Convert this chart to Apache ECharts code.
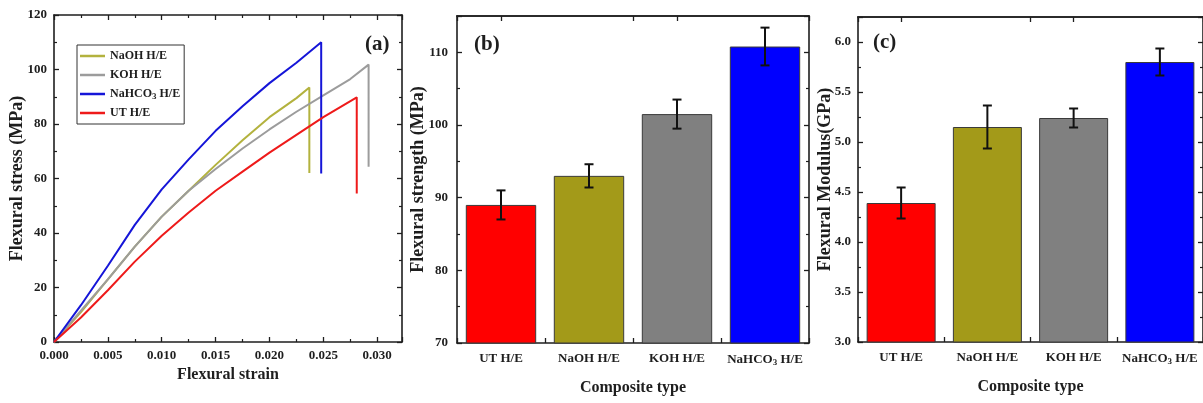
<!DOCTYPE html>
<html><head><meta charset="utf-8">
<script src="https://cdn.jsdelivr.net/npm/echarts@6/dist/echarts.min.js"></script>
<style>html,body{margin:0;padding:0;background:#fff}#c{width:1203px;height:403px}</style>
</head><body><div id="c"></div>
<script>
// ---------- data ----------
const categories = ['UT H/E', 'NaOH H/E', 'KOH H/E', 'NaHCO3 H/E'];
const strengthMean = [89.0, 93.0, 101.5, 110.8];
const strengthErr = [2.0, 1.6, 2.0, 2.6];
const modulusMean = [4.39, 5.15, 5.24, 5.80];
const modulusErr = [0.155, 0.215, 0.095, 0.135];

const strainNaOH = [0, 0.0025, 0.005, 0.0075, 0.010, 0.0125, 0.015, 0.0175, 0.020, 0.0225, 0.0237, 0.0237];
const stressNaOH = [0, 11, 23, 35, 46, 55.5, 65, 74, 82.5, 89.5, 93.4, 62];
const strainKOH = [0, 0.0025, 0.005, 0.0075, 0.010, 0.0125, 0.015, 0.0175, 0.020, 0.0225, 0.025, 0.0275, 0.0292, 0.0292];
const stressKOH = [0, 11.5, 23, 35, 46, 55.5, 63.5, 71, 78, 84.5, 90.5, 96.5, 101.8, 64.3];
const strainNaHCO3 = [0, 0.0025, 0.005, 0.0075, 0.010, 0.0125, 0.015, 0.0175, 0.020, 0.0225, 0.0248, 0.0248];
const stressNaHCO3 = [0, 13.5, 28, 43, 56, 67, 77.5, 86.5, 95, 102.5, 110, 61.8];
const strainUT = [0, 0.0025, 0.005, 0.0075, 0.010, 0.0125, 0.015, 0.0175, 0.020, 0.0225, 0.025, 0.0281, 0.0281];
const stressUT = [0, 9, 19, 29.5, 39, 47.5, 55.5, 62.5, 69.5, 76, 82.5, 89.8, 54.5];

// ---------- styles ----------
const FONT = '"Liberation Serif", "DejaVu Serif", serif';
const INK = '#1e1e1e';
const barColors = ['#ff0000', '#a39a19', '#808080', '#0000ff'];
const lineColors = { 'NaOH H/E': '#b3b23e', 'KOH H/E': '#9c9c9c', 'NaHCO3 H/E': '#1515d8', 'UT H/E': '#ee1a1a' };

const pairs = (xs, ys) => xs.map((x, i) => [x, ys[i]]);
const rich = { sub: { fontSize: 9, fontWeight: 'bold', fontFamily: FONT, color: INK, verticalAlign: 'bottom', padding: [6, 0, 0, 0] } };
const catFmt = v => v === 'NaHCO3 H/E' ? 'NaHCO{sub|3} H/E' : v;

const axisLine = { show: true, onZero: false, lineStyle: { color: INK, width: 1.6 } };
const labelStyle = { fontFamily: FONT, fontWeight: 'bold', fontSize: 13, color: INK };
const yNameStyle = { fontFamily: FONT, fontWeight: 'bold', fontSize: 18, color: INK };
const xNameStyle = { fontFamily: FONT, fontWeight: 'bold', fontSize: 16, color: INK };
const tickIn = { show: true, inside: true, length: 5, lineStyle: { color: INK, width: 1.3 } };
const minorIn = { show: true, splitNumber: 2, length: 3, lineStyle: { color: INK, width: 1.2 } };

function isMultiple(v, step) { return Math.abs(v / step - Math.round(v / step)) < 1e-6; }

function valueAxis(o) {
  return Object.assign({
    type: 'value', scale: false, axisLine, axisTick: tickIn,
    minorTick: minorIn, splitLine: { show: false }, minorSplitLine: { show: false },
    nameLocation: 'middle', nameMoveOverlap: false
  }, o);
}

function errRender(params, api) {
  const x = api.value(0), lo = api.value(1), hi = api.value(2);
  const pLo = api.coord([x, lo]), pHi = api.coord([x, hi]);
  const cap = 4.5;
  const style = { stroke: '#111', lineWidth: 2 };
  return {
    type: 'group', children: [
      { type: 'line', shape: { x1: pLo[0], y1: pLo[1], x2: pHi[0], y2: pHi[1] }, style },
      { type: 'line', shape: { x1: pHi[0] - cap, y1: pHi[1], x2: pHi[0] + cap, y2: pHi[1] }, style },
      { type: 'line', shape: { x1: pLo[0] - cap, y1: pLo[1], x2: pLo[0] + cap, y2: pLo[1] }, style }
    ]
  };
}

const grids = [
  { left: 54, top: 15, width: 348, height: 327 },
  { left: 457, top: 16, width: 352, height: 327 },
  { left: 858, top: 17, width: 349, height: 325 }
];

function catAxes(gi) {
  return [
    { type: 'category', gridIndex: gi, data: categories, position: 'bottom', axisLine,
      axisTick: tickIn, axisLabel: Object.assign({ formatter: catFmt, rich, margin: 9, interval: 0 }, labelStyle),
      name: 'Composite type', nameLocation: 'middle', nameGap: 37, nameTextStyle: xNameStyle },
    { type: 'category', gridIndex: gi, data: categories, position: 'top', axisLine,
      axisTick: tickIn, axisLabel: { show: false } },
    { type: 'category', gridIndex: gi, data: categories, position: 'top', axisLine,
      axisTick: Object.assign({ alignWithLabel: true }, tickIn), axisLabel: { show: false } }
  ];
}

const xAxis = [
  valueAxis({ gridIndex: 0, min: 0, max: 0.0323, interval: 0.005, position: 'bottom',
    axisLabel: Object.assign({ margin: 7, formatter: v => isMultiple(v, 0.005) ? v.toFixed(3) : '' }, labelStyle),
    name: 'Flexural strain', nameGap: 23, nameTextStyle: xNameStyle, nameMoveOverlap: true }),
  valueAxis({ gridIndex: 0, min: 0, max: 0.0323, interval: 0.005, position: 'top', axisLabel: { show: false } }),
  ...catAxes(1),
  ...catAxes(2)
];

const yAxis = [
  valueAxis({ gridIndex: 0, min: 0, max: 120, interval: 20, position: 'left',
    axisLabel: Object.assign({ margin: 7 }, labelStyle), name: 'Flexural stress (MPa)', nameGap: 28, nameTextStyle: yNameStyle }),
  valueAxis({ gridIndex: 0, min: 0, max: 120, interval: 20, position: 'right', axisLabel: { show: false } }),
  valueAxis({ gridIndex: 1, min: 70, max: 115, interval: 10, position: 'left',
    axisLabel: Object.assign({ margin: 9, formatter: v => isMultiple(v, 10) ? String(v) : '' }, labelStyle),
    name: 'Flexural strength (MPa)', nameGap: 30, nameTextStyle: yNameStyle }),
  valueAxis({ gridIndex: 1, min: 70, max: 115, interval: 10, position: 'right', axisLabel: { show: false } }),
  valueAxis({ gridIndex: 2, min: 3, max: 6.25, interval: 0.5, position: 'left',
    axisLabel: Object.assign({ margin: 7, formatter: v => isMultiple(v, 0.5) ? v.toFixed(1) : '' }, labelStyle),
    name: 'Flexural Modulus(GPa)', nameGap: 24, nameTextStyle: yNameStyle }),
  valueAxis({ gridIndex: 2, min: 3, max: 6.25, interval: 0.5, position: 'right', axisLabel: { show: false } })
];

function lineSeries(name, xs, ys) {
  return { name, type: 'line', xAxisIndex: 0, yAxisIndex: 0, data: pairs(xs, ys),
    showSymbol: false, symbol: 'none', lineStyle: { width: 2, color: lineColors[name] },
    itemStyle: { color: lineColors[name] }, z: 3 };
}

function barSeries(xi, yi, means) {
  return { type: 'bar', xAxisIndex: xi, yAxisIndex: yi, barWidth: '80%',
    data: means.map((v, i) => ({ value: v, itemStyle: { color: barColors[i] } })),
    itemStyle: { borderColor: '#3a3a3a', borderWidth: 1 }, z: 2 };
}
function errSeries(xi, yi, means, errs) {
  return { type: 'custom', xAxisIndex: xi, yAxisIndex: yi, renderItem: errRender,
    encode: { x: 0, y: [1, 2] },
    data: means.map((v, i) => [i, v - errs[i], v + errs[i]]), z: 4 };
}

const option = {
  backgroundColor: '#ffffff',
  animation: false,
  grid: grids,
  xAxis, yAxis,
  legend: {
    data: ['NaOH H/E', 'KOH H/E', 'NaHCO3 H/E', 'UT H/E'],
    orient: 'vertical', left: 77, top: 45,
    icon: 'rect', itemWidth: 25, itemHeight: 2.5, itemGap: 5,
    padding: [4, 4, 4, 3],
    borderColor: '#333', borderWidth: 1,
    formatter: n => n === 'NaHCO3 H/E' ? 'NaHCO{sub|3} H/E' : n,
    textStyle: { fontFamily: FONT, fontWeight: 'bold', fontSize: 12, color: INK, rich, lineHeight: 14 }
  },
  graphic: [
    { type: 'text', left: 365, top: 34, style: { text: '(a)', font: 'bold 21px "Liberation Serif"', fill: INK } },
    { type: 'text', left: 474, top: 34, style: { text: '(b)', font: 'bold 21px "Liberation Serif"', fill: INK } },
    { type: 'text', left: 873, top: 32, style: { text: '(c)', font: 'bold 21px "Liberation Serif"', fill: INK } }
  ],
  series: [
    lineSeries('NaOH H/E', strainNaOH, stressNaOH),
    lineSeries('KOH H/E', strainKOH, stressKOH),
    lineSeries('NaHCO3 H/E', strainNaHCO3, stressNaHCO3),
    lineSeries('UT H/E', strainUT, stressUT),
    barSeries(2, 2, strengthMean),
    errSeries(2, 2, strengthMean, strengthErr),
    barSeries(5, 4, modulusMean),
    errSeries(5, 4, modulusMean, modulusErr)
  ]
};

const chart = echarts.init(document.getElementById('c'), null, { renderer: 'canvas' });
chart.setOption(option);
</script>
</body></html>
